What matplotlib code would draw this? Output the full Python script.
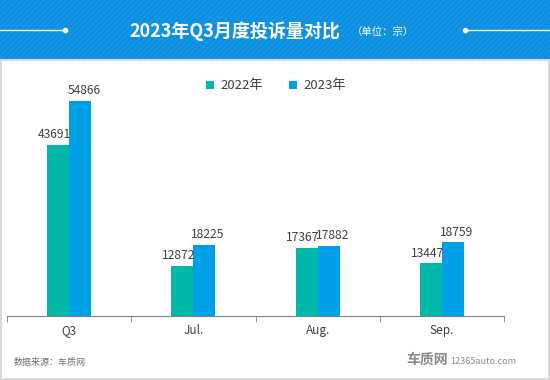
import matplotlib.pyplot as plt
from matplotlib.patches import Rectangle
import numpy as np

plt.rcParams['font.family'] = ['Noto Sans CJK SC', 'DejaVu Sans']

categories = ['Q3', 'Jul.', 'Aug.', 'Sep.']
v2022 = [43691, 12872, 17367, 13447]
v2023 = [54866, 18225, 17882, 18759]
series_names = ['2022年', '2023年']
c2022 = '#00b8aa'
c2023 = '#00a0e9'

fig = plt.figure(figsize=(5.5, 3.8), dpi=100)
W, H = 550, 380

# header band
band = Rectangle((0, 1 - 60 / H), 1, 60 / H, transform=fig.transFigure,
                 facecolor='#0b8fe0', edgecolor='#1a98e6', hatch='//////',
                 linewidth=0, zorder=0)
fig.patches.append(band)
fig.text(235 / W, 1 - 31 / H, '2023年Q3月度投诉量对比', color='white',
         fontsize=13, fontweight='bold', ha='center', va='center')
fig.text(383 / W, 1 - 32 / H, '（单位：宗）', color='white',
         fontsize=7.5, ha='center', va='center')
for x0, x1, xd in [(0, 65, 65), (465, 550, 465)]:
    fig.lines.append(plt.Line2D([x0 / W, x1 / W], [1 - 30 / H] * 2,
                                transform=fig.transFigure, color='white', lw=1))
    fig.lines.append(plt.Line2D([xd / W], [1 - 30 / H], transform=fig.transFigure,
                                color='white', marker='o', markersize=3))

# outer border of white area
fig.patches.append(Rectangle((1 / W, 1 / H), (W - 2) / W, (H - 61) / H,
                             transform=fig.transFigure, facecolor='none',
                             edgecolor='#d9d9d9', lw=1.5))

ax = fig.add_axes([7 / W, (H - 316) / H, 497 / W, 236 / H])
x = np.arange(len(categories))
w = 0.177
b1 = ax.bar(x - w / 2, v2022, w, color=c2022, label=series_names[0])
b2 = ax.bar(x + w / 2, v2023, w, color=c2023, label=series_names[1])
for bars, shift in ((b1, -0.03), (b2, 0.03)):
    for r in bars:
        ax.text(r.get_x() + r.get_width() / 2 + shift, r.get_height() + 900,
                str(int(r.get_height())), ha='center', va='bottom',
                fontsize=8.7, color='#404040')

ax.set_xlim(-0.5, len(categories) - 0.5)
ax.set_ylim(0, 236 / 215 * 54866)
ax.set_xticks(x)
ax.set_xticklabels(categories, fontsize=8.5, color='#404040')
ax.set_xticks(np.arange(len(categories) + 1) - 0.5, minor=True)
ax.tick_params(axis='x', which='major', length=0, pad=6)
ax.tick_params(axis='x', which='minor', length=4, color='#808080', direction='out')
ax.set_yticks([])
for s in ['top', 'right', 'left']:
    ax.spines[s].set_visible(False)
ax.spines['bottom'].set_color('#808080')

ax.legend(loc='center', bbox_to_anchor=((276 - 7) / 497, (316 - 86) / 236), ncol=2,
          frameon=False, fontsize=9.5, handlelength=0.6, handleheight=0.6,
          columnspacing=2.0, handletextpad=0.45, labelcolor='#404040')

fig.text(14 / W, 1 - 362 / H, '数据来源：车质网', fontsize=6.5, color='#707070',
         va='center', ha='left')
fig.text(448 / W, 1 - 360 / H, '车质网', fontsize=10, fontweight='bold',
         color='#8a8a8a', va='center', ha='right', style='italic')
fig.text(450 / W, 1 - 362 / H, '12365auto.com', fontsize=6.5, color='#8a8a8a',
         va='center', ha='left')

fig.savefig('out.png', dpi=100)
